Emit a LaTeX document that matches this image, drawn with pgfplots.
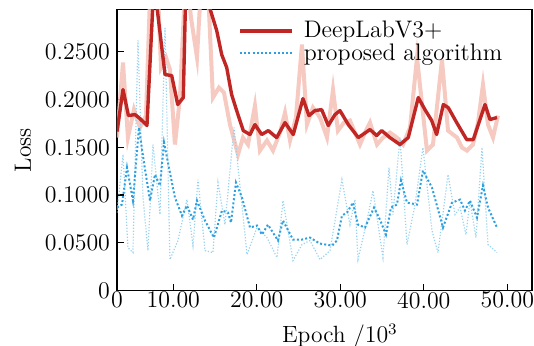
\documentclass[border=0pt]{standalone}
\usepackage{pgfplots}
\pgfplotsset{compat=1.18}
\definecolor{dred}{RGB}{192,38,36}
\definecolor{lred}{RGB}{244,192,182}
\definecolor{dblue}{RGB}{45,160,225}
\definecolor{lblue}{RGB}{150,210,240}
\begin{document}
\begin{tikzpicture}
\begin{axis}[name=ax, scale only axis, width=207.5bp, height=140.5bp,
  xmin=3.26, xmax=52.96, ymin=0, ymax=0.2942,
  xtick={3.26,10,20,30,40,50}, xticklabels={0,10.00,20.00,30.00,40.00,50.00},
  ytick={0,0.05,0.1,0.15,0.2,0.25}, yticklabels={0,0.0500,0.1000,0.1500,0.2000,0.2500},
  tick align=inside, tick pos=left, major tick length=3.5bp,
  axis line style={line width=0.6pt}, tick style={line width=0.6pt, black},
  ticklabel style={font=\fontsize{12}{14}\selectfont},
  xticklabel style={yshift=2.8pt},
  xlabel={Epoch /$10^3$}, ylabel={Loss},
  label style={font=\fontsize{11.8}{14}\selectfont},
  xlabel style={at={(axis description cs:0.537,0)}, anchor=north, yshift=-16.5bp, inner sep=0pt},
  legend style={draw=none, fill=none, at={(0.2916,0.962)}, anchor=north west,
    font=\fontsize{12}{14}\selectfont, inner sep=0pt, row sep=1bp,
    nodes={inner sep=0.2bp},
    /tikz/every odd column/.append style={column sep=4.8bp}},
  legend cell align=left,
  legend image code/.code={\draw[#1] (0bp,0bp) -- (26bp,0bp);},
]
% light red (raw)
\addplot[lred, line width=2pt, opacity=0.85, forget plot] coordinates {
(3.26,0.1602)(3.98,0.2387)(4.57,0.1602)(5.29,0.1895)(6.01,0.1707)(6.73,0.1832)
(7.33,0.338)(8.05,0.338)(8.53,0.2335)(9.13,0.2440)(9.60,0.2314)(10.20,0.1529)
(10.80,0.2021)(11.52,0.338)(12.12,0.286)(12.84,0.2440)(13.44,0.338)(14.04,0.338)
(14.75,0.2021)(15.47,0.2126)(16.07,0.2073)(16.79,0.1738)(17.75,0.1424)(18.35,0.1602)
(18.95,0.1529)(19.78,0.1937)(20.38,0.1466)(21.22,0.1571)(21.94,0.1466)(22.78,0.1654)
(23.38,0.1864)(23.98,0.1571)(24.69,0.1812)(25.41,0.2576)(26.01,0.1738)(26.73,0.1916)
(27.57,0.1812)(28.41,0.1602)(29.13,0.2105)(29.72,0.1675)(30.44,0.1759)(31.16,0.1780)
(31.76,0.1654)(32.36,0.1529)(32.96,0.1654)(33.56,0.1759)(34.40,0.1529)(35.11,0.1602)
(35.95,0.1654)(36.79,0.1602)(37.51,0.1529)(38.35,0.1707)(39.19,0.2440)(40.38,0.1466)
(41.10,0.1529)(42.18,0.2419)(42.90,0.1675)(43.98,0.1602)(44.58,0.1497)(45.17,0.1466)
(45.89,0.1529)(46.49,0.1759)(47.09,0.2157)(47.69,0.1738)(48.29,0.1602)(48.89,0.1832)
};
% light blue (raw)
\addplot[lblue, line width=0.6pt, dash pattern=on 0.6pt off 0.9pt, forget plot] coordinates {
(3.26,0.0817)(3.98,0.1424)(4.57,0.0450)(5.17,0.0398)(5.77,0.262)(6.37,0.0974)
(6.97,0.0419)(7.57,0.1529)(8.41,0.0796)(9.01,0.275)(9.60,0.0325)(10.56,0.0524)
(11.64,0.0953)(12.36,0.0471)(12.96,0.1162)(13.80,0.0419)(14.75,0.0398)(15.35,0.1131)
(16.19,0.0691)(17.27,0.1707)(18.83,0.0377)(20.02,0.0660)(21.22,0.0555)(22.42,0.0346)
(23.14,0.0942)(24.34,0.0314)(25.41,0.0482)(26.37,0.0524)(27.57,0.0325)(28.77,0.0419)
(30.20,0.1162)(31.16,0.0691)(31.76,0.0953)(32.12,0.0325)(33.20,0.0733)(33.92,0.1047)
(35.11,0.0346)(35.83,0.1288)(36.31,0.0796)(37.15,0.1602)(37.99,0.0482)(38.95,0.0901)
(39.90,0.1497)(40.98,0.0628)(41.70,0.0398)(42.90,0.1215)(43.74,0.0796)(44.34,0.0869)
(45.05,0.0586)(45.53,0.0942)(46.25,0.0555)(46.97,0.1497)(47.69,0.0482)(48.77,0.0398)
};
% dark red (smoothed)
\addplot[dred, line width=1.7pt, line join=round] coordinates {
(3.26,0.1665)(3.98,0.2105)(4.63,0.1832)(5.41,0.1843)(6.01,0.1801)(6.85,0.1728)
(7.69,0.323)(9.01,0.2262)(9.81,0.2251)(10.53,0.1948)(11.20,0.2021)(11.64,0.370)
(13.80,0.338)(14.28,0.2984)(15.20,0.2723)(15.80,0.2471)(16.40,0.2335)(16.99,0.2052)
(17.59,0.1885)(18.38,0.1675)(19.19,0.1634)(19.78,0.1738)(20.59,0.1634)(21.38,0.1675)
(22.38,0.1602)(23.38,0.1759)(24.37,0.1634)(25.53,0.2010)(26.25,0.1832)(26.97,0.1885)
(27.77,0.1895)(28.56,0.1728)(29.37,0.1843)(29.96,0.1885)(30.96,0.1738)(32.16,0.1602)
(33.56,0.1686)(34.36,0.1623)(34.96,0.1675)(35.95,0.1602)(37.15,0.1529)(38.14,0.1602)
(39.34,0.2021)(40.14,0.1895)(40.95,0.1780)(41.54,0.1634)(42.34,0.1948)(42.93,0.1916)
(43.94,0.1759)(45.14,0.1581)(45.93,0.1581)(47.33,0.1948)(47.93,0.1791)(48.77,0.1812)
};
\addlegendentry{DeepLabV3+}
% dark blue (smoothed)
\addplot[dblue, line width=1pt, dash pattern=on 1pt off 1.1pt] coordinates {
(3.26,0.0869)(3.86,0.0901)(4.46,0.1288)(5.17,0.0942)(5.89,0.1707)(6.49,0.1340)
(7.21,0.0942)(7.81,0.1215)(8.41,0.1099)(8.89,0.1550)(9.60,0.1236)(10.20,0.0974)
(11.04,0.0785)(11.64,0.0890)(12.36,0.0743)(12.84,0.0942)(13.80,0.0733)(14.87,0.0555)
(15.83,0.0838)(16.55,0.0817)(16.91,0.0712)(17.51,0.1131)(18.23,0.0974)(19.19,0.0660)
(20.02,0.0681)(20.62,0.0586)(21.34,0.0691)(22.54,0.0524)(23.14,0.0733)(24.34,0.0534)
(25.41,0.0534)(26.37,0.0555)(27.57,0.0492)(29.01,0.0471)(29.60,0.0524)(30.20,0.0785)
(30.80,0.0817)(31.52,0.0921)(32.12,0.0691)(32.96,0.0660)(34.04,0.0869)(34.75,0.0743)
(35.47,0.0586)(36.07,0.0869)(36.79,0.0901)(37.27,0.1152)(37.99,0.0921)(39.19,0.0901)
(39.90,0.1257)(40.98,0.1079)(42.30,0.0660)(43.38,0.0921)(44.34,0.0953)(44.93,0.0838)
(45.53,0.0942)(46.37,0.0764)(47.09,0.1099)(47.69,0.0869)(48.77,0.0660)
};
\addlegendentry{proposed algorithm}
\end{axis}
\pgfresetboundingbox
\path ([xshift=-58.5bp,yshift=-27.7bp]ax.south west) rectangle ([xshift=1bp,yshift=4.8bp]ax.north east);
\end{tikzpicture}
\end{document}
